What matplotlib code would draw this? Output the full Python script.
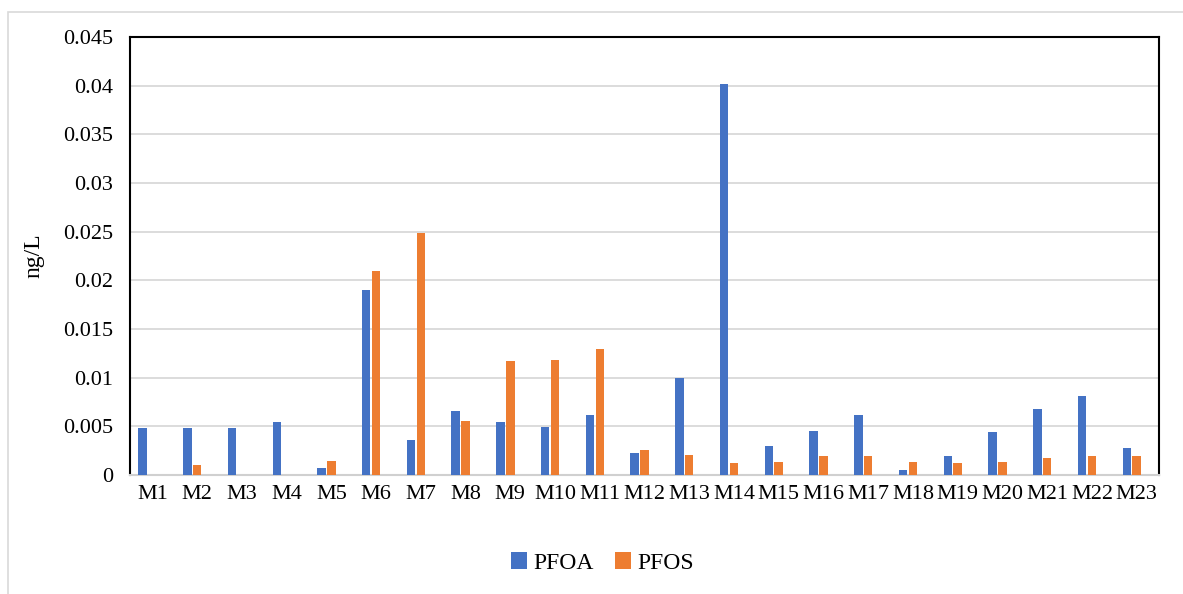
import numpy as np
import matplotlib.pyplot as plt
from matplotlib.patches import Rectangle

sites = ['M%d' % i for i in range(1, 24)]
pfoa = [0.0048, 0.0048, 0.0048, 0.0054, 0.0007, 0.0190, 0.0036, 0.0066,
        0.0054, 0.0049, 0.0062, 0.0023, 0.0100, 0.0402, 0.0030, 0.0045,
        0.0062, 0.0005, 0.0020, 0.0044, 0.0068, 0.0081, 0.0028]
pfos = [0.0, 0.0010, 0.0, 0.0, 0.0014, 0.0210, 0.0249, 0.0055,
        0.0117, 0.0118, 0.0129, 0.0026, 0.0021, 0.0012, 0.0013, 0.0020,
        0.0020, 0.0013, 0.0012, 0.0013, 0.0018, 0.0020, 0.0020]
yticks = [0, 0.005, 0.01, 0.015, 0.02, 0.025, 0.03, 0.035, 0.04, 0.045]
ytick_labels = ['0', '0.005', '0.01', '0.015', '0.02', '0.025', '0.03', '0.035', '0.04', '0.045']

plt.rcParams['font.family'] = ['Liberation Serif', 'DejaVu Serif']
blue = '#4472c4'
orange = '#ed7d31'

fig = plt.figure(figsize=(11.83, 5.94), dpi=100)
ax = fig.add_axes([0.1099, 0.2003, 0.8698, 0.7374])

# light chart-area border (only top and left visible)
fig.patches.append(Rectangle((8 / 1183, -0.2), 1.5, 1.2 - 12 / 594,
                             transform=fig.transFigure, fill=False,
                             edgecolor='#d9d9d9', lw=1.2))

x = np.arange(len(sites))
w = 0.19
ax.bar(x - 0.22, pfoa, w, color=blue, label='PFOA', zorder=3)
ax.bar(x, pfos, w, color=orange, label='PFOS', zorder=3)

ax.set_xlim(-0.5, len(sites) - 0.5)
ax.set_ylim(0, 0.045)
ax.set_yticks(yticks)
ax.set_yticklabels(ytick_labels)
ax.set_xticks(x)
ax.set_xticklabels(sites)
ax.tick_params(axis='both', length=0, labelsize=16, colors='black')
ax.tick_params(axis='y', pad=12)
ax.tick_params(axis='x', pad=7)
ax.yaxis.grid(True, color='#d9d9d9', lw=1.3, zorder=0)

for s in ['left', 'top', 'right']:
    ax.spines[s].set_color('black')
    ax.spines[s].set_linewidth(1.5)
ax.spines['bottom'].set_color('#d0d0d0')
ax.spines['bottom'].set_linewidth(1.5)

ax.set_ylabel('ng/L', fontsize=17)
ax.yaxis.set_label_coords(-0.083, 0.5)

fig.legend(loc='center', bbox_to_anchor=(0.509, 0.052), ncol=2, frameon=False,
           fontsize=17, handlelength=0.7, handleheight=0.7, handletextpad=0.25,
           columnspacing=0.9)

fig.savefig('out.png', dpi=100)
